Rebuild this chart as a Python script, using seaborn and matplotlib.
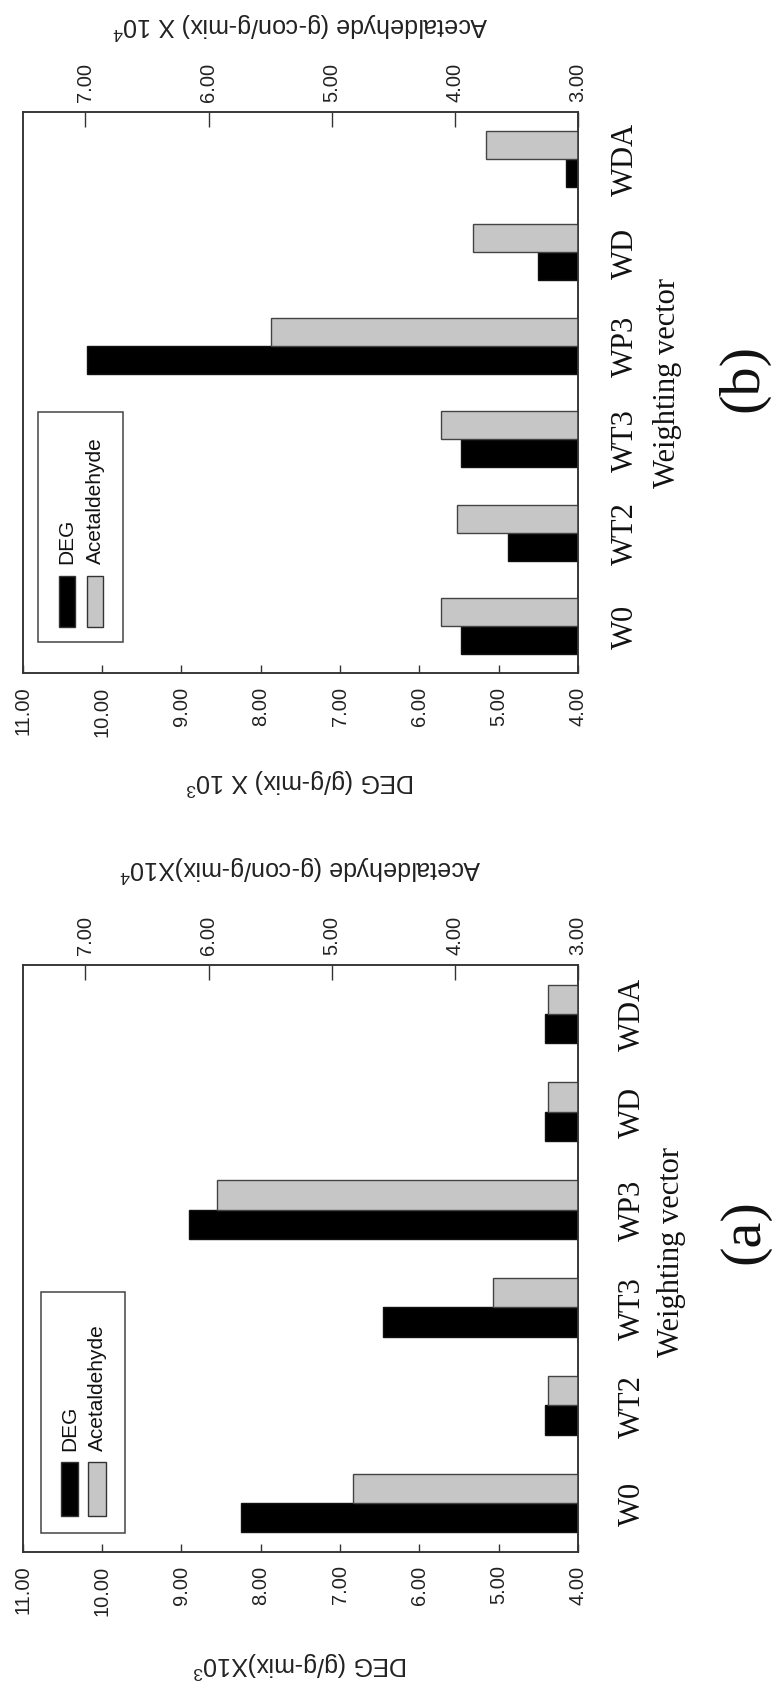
import numpy as np
import pandas as pd
import matplotlib
matplotlib.use("Agg")
import matplotlib.pyplot as plt
import seaborn as sns
from matplotlib.patches import Rectangle
from matplotlib.ticker import FormatStrFormatter

# ---------------- data ----------------
cats = ["W0", "WT2", "WT3", "WP3", "WD", "WDA"]
deg_a = [8.25, 4.42, 6.46, 8.90, 4.42, 4.42]
ace_a = [4.83, 3.24, 3.69, 5.93, 3.24, 3.24]
deg_b = [5.47, 4.88, 5.47, 10.19, 4.50, 4.15]
ace_b = [4.11, 3.98, 4.11, 5.49, 3.85, 3.75]
deg_ticks = [4, 5, 6, 7, 8, 9, 10, 11]
ace_ticks = [3, 4, 5, 6, 7]
series_names = ["DEG", "Acetaldehyde"]

# ---------------- style ----------------
sns.set_theme(style="white")
plt.rcParams["font.family"] = ["Liberation Sans", "DejaVu Sans"]
plt.rcParams["mathtext.fontset"] = "custom"
plt.rcParams["mathtext.rm"] = "Liberation Sans"
plt.rcParams["mathtext.it"] = "Liberation Sans:italic"
plt.rcParams["mathtext.bf"] = "Liberation Sans:bold"

W, H = 777, 1683
fig = plt.figure(figsize=(W / 100, H / 100), dpi=100)
fig.patch.set_facecolor("white")

GRAY = "#c6c6c6"
palette = {"DEG": "black", "Acetaldehyde": GRAY}
hue_order = ["Acetaldehyde", "DEG"]
order = cats[::-1]
SERIF = ["Liberation Serif", "DejaVu Serif"]
SPINE = "#333333"


def fx(x):
    return x / W


def fy(y):
    return 1 - y / H


def panel(box, deg, ace, deg_title, ace_title, deg_lab_y, ace_lab_y,
          cat_pad, legend, tag, tag_xy, wv_xy):
    x0, y0, x1, y1 = box
    ax = fig.add_axes([fx(x0), fy(y1), fx(x1) - fx(x0), fy(y0) - fy(y1)])
    ax2 = ax.twiny()

    df_deg = pd.DataFrame({"Weighting vector": cats, "series": "DEG", "value": deg})
    df_ace = pd.DataFrame({"Weighting vector": cats, "series": "Acetaldehyde", "value": ace})

    sns.barplot(data=df_deg, x="value", y="Weighting vector", hue="series",
                hue_order=hue_order, palette=palette, order=order, orient="h",
                width=0.6, dodge=True, saturation=1, edgecolor="#111111",
                linewidth=1.0, legend=False, ax=ax)
    sns.barplot(data=df_ace, x="value", y="Weighting vector", hue="series",
                hue_order=hue_order, palette=palette, order=order, orient="h",
                width=0.6, dodge=True, saturation=1, edgecolor="#444444",
                linewidth=1.0, legend=False, ax=ax2)

    ax.set_xlim(11, 4)
    ax2.set_xlim(7.51, 3)
    ax.set_ylim(5.5, -0.5)

    # DEG axis (bottom)
    ax.set_xticks(deg_ticks)
    ax.xaxis.set_major_formatter(FormatStrFormatter("%.2f"))
    ax.tick_params(axis="x", bottom=True, top=False, labelbottom=True, labeltop=False,
                   direction="in", length=6, width=1, color=SPINE, labelsize=14.5,
                   labelrotation=90, pad=9, labelcolor="#222222")
    # Acetaldehyde axis (top)
    ax2.set_xticks(ace_ticks)
    ax2.xaxis.set_major_formatter(FormatStrFormatter("%.2f"))
    ax2.tick_params(axis="x", bottom=False, top=True, labelbottom=False, labeltop=True,
                    direction="in", length=11, width=1, color=SPINE, labelsize=14.5,
                    labelrotation=90, pad=8, labelcolor="#222222")

    # categories on the right
    ax.set_yticks(range(len(order)))
    ax.set_yticklabels(order, fontfamily=SERIF, fontsize=22, rotation=90, va="center")
    ax.tick_params(axis="y", left=False, right=False, labelleft=False, labelright=True,
                   pad=cat_pad, labelcolor="#111111")
    ax.set_ylabel("")
    ax2.set_ylabel("")

    # axis titles (upside-down)
    ax.set_xlabel(deg_title, fontsize=18, rotation=180, color="#222222")
    ax.xaxis.set_label_coords(0.5, deg_lab_y)
    ax.xaxis.label.set_va("center")
    ax2.set_xlabel(ace_title, fontsize=18, rotation=180, color="#222222")
    ax2.xaxis.set_label_coords(0.5, ace_lab_y)
    ax2.xaxis.label.set_va("center")

    for a in (ax, ax2):
        for s in a.spines.values():
            s.set_visible(True)
            s.set_color(SPINE)
            s.set_linewidth(1.1)
    ax.set_facecolor("white")

    # legend (drawn rotated, like the page)
    (bx0, by0, bx1, by1), deg_patch, ace_patch, text_bottom = legend
    fig.add_artist(Rectangle((fx(bx0), fy(by1)), fx(bx1) - fx(bx0), fy(by0) - fy(by1),
                             transform=fig.transFigure, facecolor="white",
                             edgecolor="#444444", lw=1.1, zorder=5))
    for (px0, py0, px1, py1), name in zip([deg_patch, ace_patch], series_names):
        fig.add_artist(Rectangle((fx(px0), fy(py1)), fx(px1) - fx(px0), fy(py0) - fy(py1),
                                 transform=fig.transFigure, facecolor=palette[name],
                                 edgecolor="#333333", lw=1.0, zorder=6))
        fig.text(fx((px0 + px1) / 2), fy(text_bottom), name, rotation=90,
                 ha="center", va="bottom", fontsize=15, color="#111111", zorder=6)

    fig.text(fx(wv_xy[0]), fy(wv_xy[1]), "Weighting vector", rotation=90,
             ha="center", va="center", fontsize=22, family=SERIF, color="#111111")
    fig.text(fx(tag_xy[0]), fy(tag_xy[1]), tag, rotation=90,
             ha="center", va="center", fontsize=42, family=SERIF, color="#111111")
    return ax, ax2


# panel (b) - top
panel(box=(22.7, 113, 578, 674), deg=deg_b, ace=ace_b,
      deg_title="DEG (g/g-mix) X 10$^3$",
      ace_title="Acetaldehyde (g-con/g-mix) X 10$^4$",
      deg_lab_y=-0.1925, ace_lab_y=1.155, cat_pad=18,
      legend=((38, 413, 123, 643), (59, 577, 75, 628), (87, 577, 103, 628), 564),
      tag="(b)", tag_xy=(743, 378), wv_xy=(667, 383))

# panel (a) - bottom
panel(box=(22.7, 966, 578, 1553), deg=deg_a, ace=ace_a,
      deg_title="DEG (g/g-mix)X10$^3$",
      ace_title="Acetaldehyde (g-con/g-mix)X10$^4$",
      deg_lab_y=-0.1908, ace_lab_y=1.165, cat_pad=23,
      legend=((41, 1293, 125, 1534), (61, 1463, 78, 1517), (88, 1463, 106, 1517), 1451),
      tag="(a)", tag_xy=(744, 1232), wv_xy=(672, 1252))

fig.savefig("out.png", dpi=100, facecolor="white")
